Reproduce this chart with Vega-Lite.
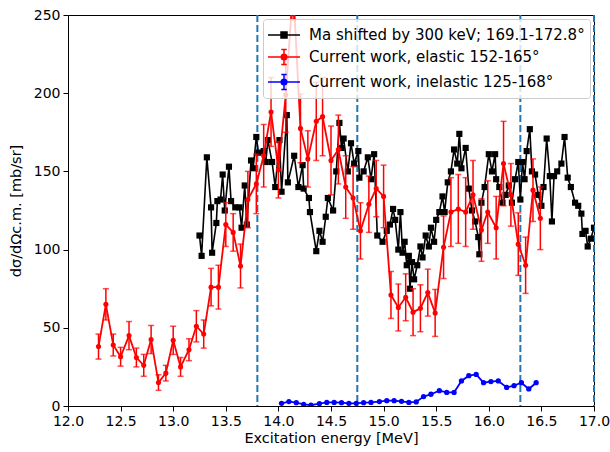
{
  "$schema": "https://vega.github.io/schema/vega-lite/v6.json",
  "autosize": "none",
  "width": 526,
  "height": 391,
  "padding": {"left": 68, "top": 15, "right": 16, "bottom": 46},
  "background": "white",
  "config": {
    "font": "DejaVu Sans",
    "view": {"stroke": "black", "strokeWidth": 1},
    "axis": {
      "domain": false, "grid": false, "ticks": true, "tickColor": "black", "tickSize": 5, "tickWidth": 1,
      "labelColor": "black", "labelFontSize": 14, "labelFont": "DejaVu Sans", "labelPadding": 3,
      "labelFlush": false, "labelOverlap": false,
      "titleColor": "black", "titleFontSize": 14.5, "titleFont": "DejaVu Sans", "titleFontWeight": "normal"
    }
  },
  "datasets": {
    "vlines": [{"x": 13.8}, {"x": 14.75}, {"x": 16.3}, {"x": 17.0}],
    "ma": [
      {"x": 13.25, "y": 109}, {"x": 13.27, "y": 96}, {"x": 13.32, "y": 159}, {"x": 13.36, "y": 127}, {"x": 13.37, "y": 98},
      {"x": 13.41, "y": 117}, {"x": 13.42, "y": 131}, {"x": 13.45, "y": 132}, {"x": 13.47, "y": 148}, {"x": 13.49, "y": 125},
      {"x": 13.53, "y": 153}, {"x": 13.55, "y": 131}, {"x": 13.59, "y": 127}, {"x": 13.63, "y": 127}, {"x": 13.65, "y": 114},
      {"x": 13.68, "y": 141}, {"x": 13.70, "y": 116}, {"x": 13.74, "y": 157}, {"x": 13.76, "y": 152}, {"x": 13.79, "y": 172},
      {"x": 13.81, "y": 162}, {"x": 13.86, "y": 163}, {"x": 13.88, "y": 156}, {"x": 13.90, "y": 170}, {"x": 13.94, "y": 156},
      {"x": 13.97, "y": 140}, {"x": 14.01, "y": 170}, {"x": 14.03, "y": 137}, {"x": 14.08, "y": 186}, {"x": 14.09, "y": 143},
      {"x": 14.15, "y": 160}, {"x": 14.19, "y": 140}, {"x": 14.23, "y": 154}, {"x": 14.24, "y": 139}, {"x": 14.29, "y": 133},
      {"x": 14.30, "y": 124}, {"x": 14.36, "y": 99}, {"x": 14.39, "y": 112}, {"x": 14.42, "y": 105}, {"x": 14.45, "y": 121},
      {"x": 14.47, "y": 133}, {"x": 14.52, "y": 125}, {"x": 14.55, "y": 150}, {"x": 14.58, "y": 181}, {"x": 14.60, "y": 165},
      {"x": 14.62, "y": 171}, {"x": 14.66, "y": 150}, {"x": 14.69, "y": 168}, {"x": 14.72, "y": 155}, {"x": 14.76, "y": 163},
      {"x": 14.77, "y": 146}, {"x": 14.81, "y": 150}, {"x": 14.85, "y": 159}, {"x": 14.88, "y": 145}, {"x": 14.91, "y": 161},
      {"x": 14.94, "y": 109}, {"x": 14.99, "y": 105}, {"x": 15.03, "y": 112}, {"x": 15.06, "y": 116}, {"x": 15.09, "y": 126},
      {"x": 15.11, "y": 119}, {"x": 15.14, "y": 100}, {"x": 15.16, "y": 124}, {"x": 15.18, "y": 98}, {"x": 15.20, "y": 105},
      {"x": 15.22, "y": 90}, {"x": 15.24, "y": 96}, {"x": 15.25, "y": 75}, {"x": 15.27, "y": 92}, {"x": 15.29, "y": 81},
      {"x": 15.32, "y": 90}, {"x": 15.35, "y": 102}, {"x": 15.37, "y": 95}, {"x": 15.40, "y": 109}, {"x": 15.43, "y": 102},
      {"x": 15.45, "y": 114}, {"x": 15.48, "y": 105}, {"x": 15.50, "y": 119}, {"x": 15.53, "y": 124}, {"x": 15.56, "y": 134},
      {"x": 15.58, "y": 124}, {"x": 15.61, "y": 143}, {"x": 15.64, "y": 150}, {"x": 15.67, "y": 164}, {"x": 15.70, "y": 155},
      {"x": 15.72, "y": 174}, {"x": 15.74, "y": 152}, {"x": 15.78, "y": 165}, {"x": 15.81, "y": 139}, {"x": 15.84, "y": 125},
      {"x": 15.87, "y": 118}, {"x": 15.90, "y": 108}, {"x": 15.91, "y": 97}, {"x": 15.93, "y": 130}, {"x": 15.96, "y": 140},
      {"x": 16.00, "y": 161}, {"x": 16.03, "y": 150}, {"x": 16.06, "y": 161}, {"x": 16.07, "y": 145}, {"x": 16.10, "y": 140},
      {"x": 16.13, "y": 130}, {"x": 16.16, "y": 135}, {"x": 16.19, "y": 141}, {"x": 16.22, "y": 130}, {"x": 16.25, "y": 145},
      {"x": 16.28, "y": 156}, {"x": 16.30, "y": 132}, {"x": 16.32, "y": 156}, {"x": 16.34, "y": 145}, {"x": 16.36, "y": 163},
      {"x": 16.39, "y": 177}, {"x": 16.41, "y": 150}, {"x": 16.44, "y": 148}, {"x": 16.47, "y": 135}, {"x": 16.50, "y": 128},
      {"x": 16.52, "y": 140}, {"x": 16.55, "y": 171}, {"x": 16.58, "y": 147}, {"x": 16.60, "y": 118}, {"x": 16.62, "y": 147},
      {"x": 16.65, "y": 150}, {"x": 16.69, "y": 155}, {"x": 16.72, "y": 172}, {"x": 16.75, "y": 146}, {"x": 16.78, "y": 140},
      {"x": 16.82, "y": 130}, {"x": 16.85, "y": 128}, {"x": 16.88, "y": 123}, {"x": 16.89, "y": 110}, {"x": 16.92, "y": 112},
      {"x": 16.94, "y": 102}, {"x": 16.97, "y": 107}, {"x": 17.00, "y": 114}
    ],
    "el": [
      {"x": 12.29, "y": 38, "lo": 30, "hi": 46}, {"x": 12.36, "y": 65, "lo": 55, "hi": 75},
      {"x": 12.43, "y": 39, "lo": 32, "hi": 46}, {"x": 12.50, "y": 31.5, "lo": 25.5, "hi": 37.5},
      {"x": 12.58, "y": 45, "lo": 36, "hi": 54}, {"x": 12.65, "y": 31, "lo": 25, "hi": 37},
      {"x": 12.72, "y": 26, "lo": 19, "hi": 33}, {"x": 12.79, "y": 42.5, "lo": 33.5, "hi": 51.5},
      {"x": 12.86, "y": 15, "lo": 10, "hi": 20}, {"x": 12.93, "y": 21, "lo": 16, "hi": 26},
      {"x": 13.00, "y": 42, "lo": 33, "hi": 51}, {"x": 13.07, "y": 25, "lo": 19, "hi": 31},
      {"x": 13.15, "y": 36, "lo": 29, "hi": 43}, {"x": 13.22, "y": 51, "lo": 41, "hi": 61},
      {"x": 13.29, "y": 46, "lo": 37, "hi": 55}, {"x": 13.36, "y": 76, "lo": 64, "hi": 88},
      {"x": 13.43, "y": 76, "lo": 62, "hi": 90}, {"x": 13.50, "y": 116, "lo": 102, "hi": 130},
      {"x": 13.57, "y": 111, "lo": 99, "hi": 123}, {"x": 13.64, "y": 89.5, "lo": 75.5, "hi": 103.5},
      {"x": 13.71, "y": 132, "lo": 114, "hi": 150}, {"x": 13.79, "y": 142, "lo": 123, "hi": 161},
      {"x": 13.86, "y": 160, "lo": 140, "hi": 180}, {"x": 13.93, "y": 188, "lo": 166, "hi": 210},
      {"x": 14.00, "y": 151, "lo": 133, "hi": 169}, {"x": 14.07, "y": 199, "lo": 175, "hi": 223},
      {"x": 14.14, "y": 268, "lo": 247, "hi": 289}, {"x": 14.21, "y": 177.5, "lo": 155.5, "hi": 199.5},
      {"x": 14.28, "y": 158, "lo": 140, "hi": 176}, {"x": 14.36, "y": 182, "lo": 157, "hi": 207},
      {"x": 14.42, "y": 185, "lo": 160, "hi": 210}, {"x": 14.50, "y": 157, "lo": 135, "hi": 179},
      {"x": 14.57, "y": 164, "lo": 142, "hi": 186}, {"x": 14.64, "y": 140, "lo": 120, "hi": 160},
      {"x": 14.71, "y": 133, "lo": 113, "hi": 153}, {"x": 14.78, "y": 112, "lo": 94, "hi": 130},
      {"x": 14.86, "y": 129, "lo": 111, "hi": 147}, {"x": 14.93, "y": 139, "lo": 121, "hi": 157},
      {"x": 15.00, "y": 134, "lo": 114, "hi": 154}, {"x": 15.07, "y": 71, "lo": 56, "hi": 86},
      {"x": 15.14, "y": 63, "lo": 48, "hi": 78}, {"x": 15.21, "y": 69.5, "lo": 54.5, "hi": 84.5},
      {"x": 15.28, "y": 60, "lo": 45, "hi": 75}, {"x": 15.35, "y": 62.5, "lo": 47.5, "hi": 77.5},
      {"x": 15.42, "y": 72.5, "lo": 57.5, "hi": 87.5}, {"x": 15.49, "y": 59.5, "lo": 44.5, "hi": 74.5},
      {"x": 15.57, "y": 101.5, "lo": 81.5, "hi": 121.5}, {"x": 15.64, "y": 124, "lo": 102, "hi": 146},
      {"x": 15.71, "y": 126, "lo": 104, "hi": 148}, {"x": 15.78, "y": 124, "lo": 102, "hi": 146},
      {"x": 15.85, "y": 135, "lo": 113, "hi": 157}, {"x": 15.93, "y": 112.5, "lo": 92.5, "hi": 132.5},
      {"x": 15.99, "y": 124, "lo": 104, "hi": 144}, {"x": 16.07, "y": 114, "lo": 94, "hi": 134},
      {"x": 16.14, "y": 155, "lo": 128, "hi": 182}, {"x": 16.21, "y": 135, "lo": 115, "hi": 155},
      {"x": 16.28, "y": 103.5, "lo": 83.5, "hi": 123.5}, {"x": 16.35, "y": 90, "lo": 72, "hi": 108},
      {"x": 16.42, "y": 138, "lo": 118, "hi": 158}, {"x": 16.49, "y": 120, "lo": 100, "hi": 140}
    ],
    "inel": [
      {"x": 14.03, "y": 1.7}, {"x": 14.10, "y": 2.8}, {"x": 14.17, "y": 2.1}, {"x": 14.24, "y": 1.1}, {"x": 14.31, "y": 0.6},
      {"x": 14.39, "y": 1.5}, {"x": 14.46, "y": 2.3}, {"x": 14.53, "y": 2.3}, {"x": 14.60, "y": 2.1}, {"x": 14.67, "y": 1.7},
      {"x": 14.74, "y": 1.7}, {"x": 14.81, "y": 2.1}, {"x": 14.88, "y": 2.3}, {"x": 14.96, "y": 2.8}, {"x": 15.03, "y": 3.4},
      {"x": 15.10, "y": 3.4}, {"x": 15.17, "y": 3.0}, {"x": 15.24, "y": 2.3}, {"x": 15.31, "y": 2.6}, {"x": 15.38, "y": 6.0},
      {"x": 15.45, "y": 7.5}, {"x": 15.53, "y": 9.8}, {"x": 15.60, "y": 8.7}, {"x": 15.67, "y": 8.7}, {"x": 15.74, "y": 16.0},
      {"x": 15.81, "y": 19.4}, {"x": 15.88, "y": 20.2}, {"x": 15.95, "y": 14.9}, {"x": 16.02, "y": 15.6}, {"x": 16.09, "y": 16.0},
      {"x": 16.17, "y": 11.9}, {"x": 16.24, "y": 13.0}, {"x": 16.31, "y": 14.9}, {"x": 16.38, "y": 10.9}, {"x": 16.45, "y": 14.9}
    ],
    "leg": [
      {"s": "Ma shifted by 300 keV; 169.1-172.8°"},
      {"s": "Current work, elastic 152-165°"},
      {"s": "Current work, inelastic 125-168°"}
    ]
  },
  "encoding": {
    "x": {"field": "x", "type": "quantitative",
      "scale": {"domain": [12, 17], "nice": false, "zero": false},
      "axis": {"values": [12, 12.5, 13, 13.5, 14, 14.5, 15, 15.5, 16, 16.5, 17], "format": ".1f", "title": "Excitation energy [MeV]", "titlePadding": 3}},
    "y": {"field": "y", "type": "quantitative",
      "scale": {"domain": [0, 250], "nice": false, "zero": false},
      "axis": {"values": [0, 50, 100, 150, 200, 250], "title": "dσ/dΩc.m. [mb/sr]", "titlePadding": 10}}
  },
  "layer": [
    {
      "data": {"name": "vlines"},
      "mark": {"type": "rule", "color": "#1f77b4", "strokeWidth": 2, "strokeDash": [7, 3]},
      "encoding": {"x": {"field": "x", "type": "quantitative"}, "y": null}
    },
    {
      "data": {"name": "ma"},
      "mark": {"type": "line", "color": "black", "strokeWidth": 1.6, "clip": true}
    },
    {
      "data": {"name": "ma"},
      "mark": {"type": "square", "color": "black", "size": 38, "opacity": 1, "filled": true, "clip": true}
    },
    {
      "data": {"name": "el"},
      "mark": {"type": "errorbar", "color": "red", "thickness": 1.5, "ticks": {"size": 6, "thickness": 1.5, "color": "red"}, "clip": true},
      "encoding": {"y": {"field": "lo", "type": "quantitative"}, "y2": {"field": "hi"}}
    },
    {
      "data": {"name": "el"},
      "mark": {"type": "line", "color": "red", "strokeWidth": 1.8, "clip": true}
    },
    {
      "data": {"name": "el"},
      "mark": {"type": "circle", "color": "red", "size": 26, "opacity": 1, "clip": true}
    },
    {
      "data": {"name": "inel"},
      "mark": {"type": "line", "color": "blue", "strokeWidth": 1.8, "clip": true}
    },
    {
      "data": {"name": "inel"},
      "mark": {"type": "circle", "color": "blue", "size": 28, "opacity": 1, "clip": true}
    },
    {
      "data": {"name": "leg"},
      "transform": [{"filter": "false"}],
      "mark": {"type": "point", "filled": true, "strokeWidth": 1.5, "opacity": 1},
      "encoding": {
        "x": null, "y": null,
        "fill": {"field": "s", "type": "nominal",
          "scale": {"domain": ["Ma shifted by 300 keV; 169.1-172.8°", "Current work, elastic 152-165°", "Current work, inelastic 125-168°"], "range": ["black", "red", "blue"]},
          "legend": {"title": null, "orient": "top-right", "offset": 4, "symbolSize": 400, "symbolStrokeWidth": 1.5, "symbolOpacity": 1,
            "symbolOffset": 5,
            "labelFontSize": 15, "labelColor": "black", "labelFont": "DejaVu Sans", "labelOffset": 14, "rowPadding": 3,
            "padding": 5, "fillColor": "rgba(255,255,255,0.8)", "strokeColor": "#cccccc", "cornerRadius": 3, "labelLimit": 400}},
        "stroke": {"field": "s", "type": "nominal",
          "scale": {"domain": ["Ma shifted by 300 keV; 169.1-172.8°", "Current work, elastic 152-165°", "Current work, inelastic 125-168°"], "range": ["black", "red", "blue"]},
          "legend": {"title": null}},
        "shape": {"field": "s", "type": "nominal",
          "scale": {"domain": ["Ma shifted by 300 keV; 169.1-172.8°", "Current work, elastic 152-165°", "Current work, inelastic 125-168°"],
            "range": [
              "M-1.6,0H1.6M-0.3,-0.3H0.3V0.3H-0.3Z",
              "M-1.6,0H1.6M0,-0.75V0.75M-0.27,-0.75H0.27M-0.27,0.75H0.27M-0.28,0A0.28,0.28 0 1,0 0.28,0A0.28,0.28 0 1,0 -0.28,0Z",
              "M-1.6,0H1.6M0,-0.75V0.75M-0.27,-0.75H0.27M-0.27,0.75H0.27M-0.28,0A0.28,0.28 0 1,0 0.28,0A0.28,0.28 0 1,0 -0.28,0Z"
            ]},
          "legend": {"title": null}}
      }
    }
  ]
}
